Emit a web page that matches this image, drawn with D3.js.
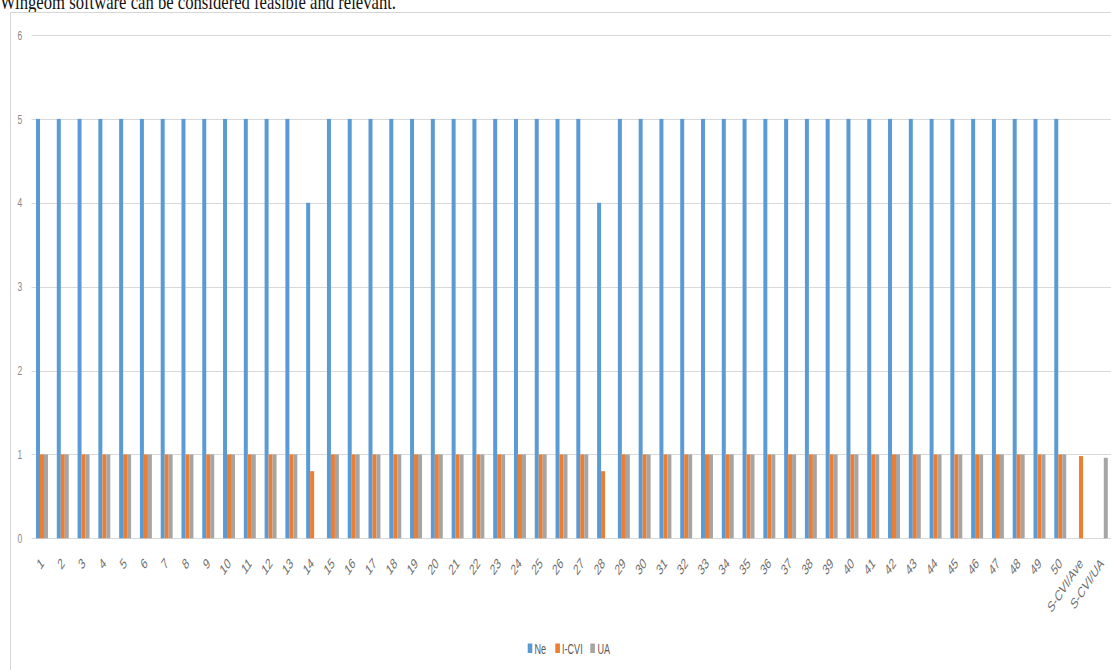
<!DOCTYPE html>
<html>
<head>
<meta charset="utf-8">
<script src="https://cdn.jsdelivr.net/npm/d3@7/dist/d3.min.js"></script>
<style>
  html, body { margin: 0; padding: 0; background: #fff; }
  svg { display: block; }
</style>
</head>
<body>
<svg id="chart" width="1111" height="670"></svg>
<script>
// Item labels along the x axis
const categories = [
  "1","2","3","4","5","6","7","8","9","10",
  "11","12","13","14","15","16","17","18","19","20",
  "21","22","23","24","25","26","27","28","29","30",
  "31","32","33","34","35","36","37","38","39","40",
  "41","42","43","44","45","46","47","48","49","50",
  "S-CVI/Ave","S-CVI/UA"
];

// Number of experts rating the item as relevant
const neValues = [
  5,5,5,5,5,5,5,5,5,5,
  5,5,5,4,5,5,5,5,5,5,
  5,5,5,5,5,5,5,4,5,5,
  5,5,5,5,5,5,5,5,5,5,
  5,5,5,5,5,5,5,5,5,5,
  null,null
];

// Item-level content validity index (last-but-one entry: scale average)
const icviValues = [
  1,1,1,1,1,1,1,1,1,1,
  1,1,1,0.8,1,1,1,1,1,1,
  1,1,1,1,1,1,1,0.8,1,1,
  1,1,1,1,1,1,1,1,1,1,
  1,1,1,1,1,1,1,1,1,1,
  0.98,null
];

// Universal agreement (last entry: scale universal agreement)
const uaValues = [
  1,1,1,1,1,1,1,1,1,1,
  1,1,1,0,1,1,1,1,1,1,
  1,1,1,1,1,1,1,0,1,1,
  1,1,1,1,1,1,1,1,1,1,
  1,1,1,1,1,1,1,1,1,1,
  null,0.96
];

const seriesNames = ["Ne", "I-CVI", "UA"];
const seriesColors = ["#5B9BD5", "#ED7D31", "#A5A5A5"];
const yTicks = [0, 1, 2, 3, 4, 5, 6];
const yTickLabels = ["0", "1", "2", "3", "4", "5", "6"];

const heading = "Wingeom software can be considered feasible and relevant.";

// ---- drawing ----
const svg = d3.select("#chart");
const K = 0.65;            // horizontal compression applied to the chart body
const toInner = v => v / K;

// page text above the chart frame
svg.append("text")
  .attr("x", 0)
  .attr("y", 9)
  .attr("textLength", 396)
  .attr("lengthAdjust", "spacingAndGlyphs")
  .style("font-family", "'Liberation Serif', 'DejaVu Serif', serif")
  .style("font-size", "22px")
  .style("fill", "#111")
  .text(heading);

// chart frame
svg.append("rect")
  .attr("x", 10.5).attr("y", 12.5)
  .attr("width", 1111).attr("height", 700)
  .attr("fill", "#fff")
  .attr("stroke", "#d6d6d6")
  .attr("stroke-width", 1);

const body = svg.append("g").attr("transform", `scale(${K},1)`);

const x0 = d3.scaleBand()
  .domain(categories)
  .range([toInner(31.6), toInner(1112.2)])
  .padding(0);

const y = d3.scaleLinear().domain([0, 6]).range([538.3, 35]);

const bw = x0.bandwidth();
const gw = bw * 0.575;
const x1 = d3.scaleBand().domain(seriesNames).range([0, gw]).padding(0);

// gridlines
body.append("g")
  .selectAll("line")
  .data(yTicks)
  .join("line")
  .attr("x1", toInner(31.6))
  .attr("x2", toInner(1112.2))
  .attr("y1", d => Math.round(y(d)) + 0.5)
  .attr("y2", d => Math.round(y(d)) + 0.5)
  .attr("stroke", "#d9d9d9")
  .attr("stroke-width", 1.2);

// y tick labels
body.append("g")
  .selectAll("text")
  .data(yTicks)
  .join("text")
  .attr("x", toInner(22.3))
  .attr("y", d => y(d))
  .attr("dy", "0.36em")
  .attr("text-anchor", "end")
  .style("font-family", "'Liberation Sans', Arial, sans-serif")
  .style("font-size", "13px")
  .style("fill", "#8a8a8a")
  .text((d, i) => yTickLabels[i]);

// bars
const seriesData = [neValues, icviValues, uaValues];
const barRows = [];
categories.forEach((c, i) => {
  seriesNames.forEach((s, j) => {
    const v = seriesData[j][i];
    if (v !== null && v > 0) barRows.push({ cat: c, series: s, idx: j, value: v });
  });
});

body.append("g")
  .selectAll("rect")
  .data(barRows)
  .join("rect")
  .attr("x", d => x0(d.cat) + (bw - gw) / 2 + x1(d.series))
  .attr("width", x1.bandwidth())
  .attr("y", d => y(d.value))
  .attr("height", d => y(0) - y(d.value))
  .attr("fill", d => seriesColors[d.idx]);

// x category labels, rotated, end of text at the band centre
body.append("g")
  .selectAll("text")
  .data(categories)
  .join("text")
  .attr("text-anchor", "end")
  .attr("transform", d =>
    `translate(${x0(d) + bw / 2 + toInner(2.5)},${y(0) + 26}) rotate(-45)`)
  .style("font-family", "'Liberation Sans', Arial, sans-serif")
  .style("font-size", "15px")
  .style("fill", "#6e6e6e")
  .text(d => d);

// legend
const legendItems = [
  { name: "Ne",    box: 527.7, text: 534.5 },
  { name: "I-CVI", box: 555.3, text: 562.0 },
  { name: "UA",    box: 590.3, text: 597.5 }
];
const legend = body.append("g");
legend.selectAll("rect")
  .data(legendItems)
  .join("rect")
  .attr("x", d => toInner(d.box))
  .attr("y", 643.5)
  .attr("width", toInner(4.6))
  .attr("height", 9.5)
  .attr("fill", (d, i) => seriesColors[i]);
legend.selectAll("text")
  .data(legendItems)
  .join("text")
  .attr("x", d => toInner(d.text))
  .attr("y", 654.5)
  .style("font-family", "'Liberation Sans', Arial, sans-serif")
  .style("font-size", "14px")
  .style("fill", "#595959")
  .text(d => d.name);
</script>
</body>
</html>
